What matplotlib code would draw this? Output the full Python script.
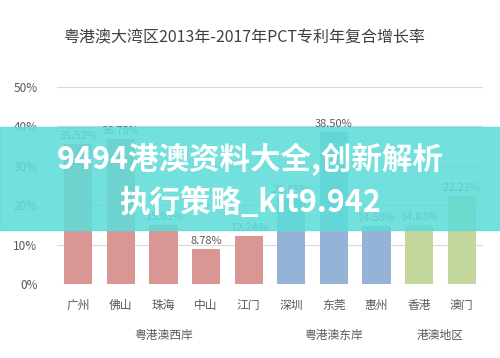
"""
粤港澳大湾区 PCT 专利年复合增长率 bar chart
"""

import matplotlib
matplotlib.use("Agg")
import matplotlib.pyplot as plt
from matplotlib.patches import Rectangle

plt.rcParams['font.family'] = ['Noto Sans CJK SC', 'DejaVu Sans']

# data
cities = ['广州', '佛山', '珠海', '中山', '江门', '深圳', '东莞', '惠州', '香港', '澳门']
rates = [35.52, 36.78, 15.03, 8.78, 12.24, 21.85, 38.50, 14.58, 14.83, 22.21]
groups = ['粤港澳西岸', '粤港澳东岸', '港澳地区']
group_sizes = [5, 3, 2]
group_colors = ['#D99694', '#95B3D7', '#C3D69B']
yticks = [0, 10, 20, 30, 40, 50]

colors = []
for c, n in zip(group_colors, group_sizes):
	colors += [c] * n

fig = plt.figure(figsize=(5, 3.58), dpi=100)
ax = fig.add_axes([0.114, 0.207, 0.852, 0.550])

x = list(range(len(cities)))
ax.bar(x, rates, width=0.66, color=colors, zorder=2)
for xi, v in zip(x, rates):
	ax.text(xi, v + 0.8, '{:.2f}%'.format(v), ha='center', va='bottom',
		fontsize=8, color='#595959', zorder=3)

ax.set_xlim(-0.5, len(cities) - 0.5)
ax.set_ylim(0, 50)
ax.set_yticks(yticks)
ax.set_yticklabels(['{}%'.format(t) for t in yticks], fontsize=8.5, color='#595959')
ax.yaxis.grid(True, color='#D9D9D9', linewidth=0.8, zorder=0)
ax.tick_params(axis='y', length=0, pad=14)
ax.set_xticks(x)
ax.set_xticklabels(cities, fontsize=8.5, color='#595959')
ax.tick_params(axis='x', length=0, pad=11)
for s in ax.spines.values():
	s.set_visible(False)

# group labels under the cities
start = 0
for g, n in zip(groups, group_sizes):
	ax.text(start + (n - 1) / 2, -0.26, g, transform=ax.get_xaxis_transform(),
		ha='center', va='center', fontsize=8.5, color='#595959')
	start += n

fig.text(0.488, 0.893, '粤港澳大湾区2013年-2017年PCT专利年复合增长率',
	ha='center', va='center', fontsize=11.5, color='#404040')

# overlay band
fig.patches.append(Rectangle((0, 1 - 230 / 358), 1, 103 / 358, transform=fig.transFigure,
	color='#5FDCD8', alpha=0.88, zorder=5))
fig.text(0.5, 1 - 160 / 358, '9494港澳资料大全,创新解析', ha='center', va='center',
	fontsize=22, fontweight='bold', color='white', zorder=6)
fig.text(0.5, 1 - 203 / 358, '执行策略_kit9.942', ha='center', va='center',
	fontsize=22, fontweight='bold', color='white', zorder=6)

fig.savefig('out.png', dpi=100)
